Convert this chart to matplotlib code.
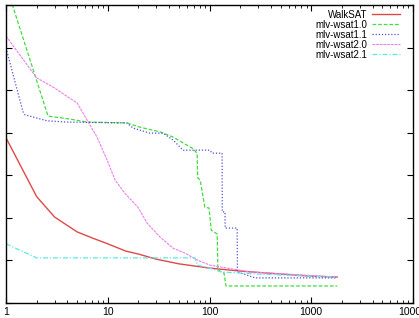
import numpy as np
import matplotlib
matplotlib.use('Agg')
import matplotlib.pyplot as plt
from matplotlib import rcParams
from matplotlib.ticker import LogLocator, NullFormatter, FixedLocator

rcParams['font.family'] = ['Liberation Sans', 'DejaVu Sans']
rcParams['font.size'] = 7.5

# data (x log scale, y arbitrary units 0..70)
walksat_x = [1, 2, 3, 5, 7, 10, 15, 20, 30, 50, 100, 200, 500, 1000, 1800]
walksat_y = [38.8, 25.0, 20.2, 16.7, 15.3, 13.9, 12.2, 11.5, 10.3, 9.2, 8.2, 7.5, 6.8, 6.3, 6.1]

wsat10_x = [1, 2.59, 4.26, 6.25, 15.4, 20.7, 32.6, 43.7, 55, 67.5, 75.6, 76.5, 81, 90, 99,
            104, 119, 121, 139, 145, 1800]
wsat10_y = [74.7, 43.9, 43.2, 42.5, 42.3, 41.3, 40.2, 39.0, 37.6, 36.4, 35.2, 29.4, 28.9, 22.5, 22.3,
            17.1, 16.2, 7.8, 7.0, 4.0, 4.0]

wsat11_x = [1, 1.47, 1.54, 2.53, 3.97, 15.4, 17.7, 26, 34.9, 43.7, 55, 101, 106, 133, 133.5,
            142, 142.5, 187, 188, 281, 1800]
wsat11_y = [59.9, 44.9, 44.2, 42.8, 42.5, 42.3, 41.1, 39.9, 39.9, 38.3, 35.9, 35.9, 35.2, 35.2, 21.4,
            21.4, 17.6, 17.6, 7.3, 5.9, 5.9]

wsat20_x = [1, 2, 3, 4, 5, 6.25, 7.83, 9.84, 11.8, 14.7, 19.8, 24.3, 32.6, 43.7, 57.6, 75.6,
            101, 251, 1800]
wsat20_y = [62.7, 52.9, 50.5, 48.5, 47.0, 43.0, 39.0, 33.6, 28.9, 25.8, 22.5, 18.8, 15.5, 12.9, 11.7, 10.1,
            8.9, 7.3, 6.1]

wsat21_x = [1, 2, 72, 76, 100, 130, 300, 1000, 1800]
wsat21_y = [13.9, 10.6, 10.6, 8.9, 8.2, 7.3, 6.8, 6.3, 6.1]

fig = plt.figure(figsize=(4.19, 3.18), dpi=100, facecolor='white')
ax = fig.add_axes([6 / 419, 15 / 318, 407 / 419, 298 / 318])

ax.plot(walksat_x, walksat_y, color='#e04848', lw=1.0, label='WalkSAT')
ax.plot(wsat10_x, wsat10_y, color='#40dd40', lw=0.9, linestyle=(0, (3, 1.5)), label='mlv-wsat1.0')
ax.plot(wsat11_x, wsat11_y, color='#5050d8', lw=0.9, linestyle=(0, (1, 1.5)), label='mlv-wsat1.1')
ax.plot(wsat20_x, wsat20_y, color='#ee80ee', lw=0.8, linestyle=(0, (2.5, 0.8)), label='mlv-wsat2.0')
ax.plot(wsat21_x, wsat21_y, color='#60e6e6', lw=0.9, linestyle=(0, (4, 1.5, 1, 1.5)), label='mlv-wsat2.1')

ax.set_xscale('log')
ax.set_xlim(1, 10000)
ax.set_ylim(0, 70)
ax.xaxis.set_major_locator(FixedLocator([1, 10, 100, 1000, 10000]))
ax.xaxis.set_major_formatter(plt.FuncFormatter(lambda v, p: f'{int(round(v))}'))
ax.xaxis.set_minor_locator(LogLocator(base=10, subs=np.arange(2, 10)))
ax.xaxis.set_minor_formatter(NullFormatter())
ax.yaxis.set_major_locator(FixedLocator(np.arange(0, 71, 10)))
ax.set_yticklabels([])

ax.tick_params(which='major', direction='in', length=4, width=0.8, top=True, right=True, pad=3)
ax.tick_params(which='minor', direction='in', length=2.5, width=0.6, top=True, right=True)
for s in ax.spines.values():
    s.set_linewidth(1.0)

leg = ax.legend(loc='upper right', bbox_to_anchor=(0.981, 1.0), frameon=False, markerfirst=False,
                handlelength=2.9, handletextpad=0.5, labelspacing=0.0, borderpad=0.0,
                fontsize=7.0)

fig.savefig('out.png', dpi=100, facecolor='white')
